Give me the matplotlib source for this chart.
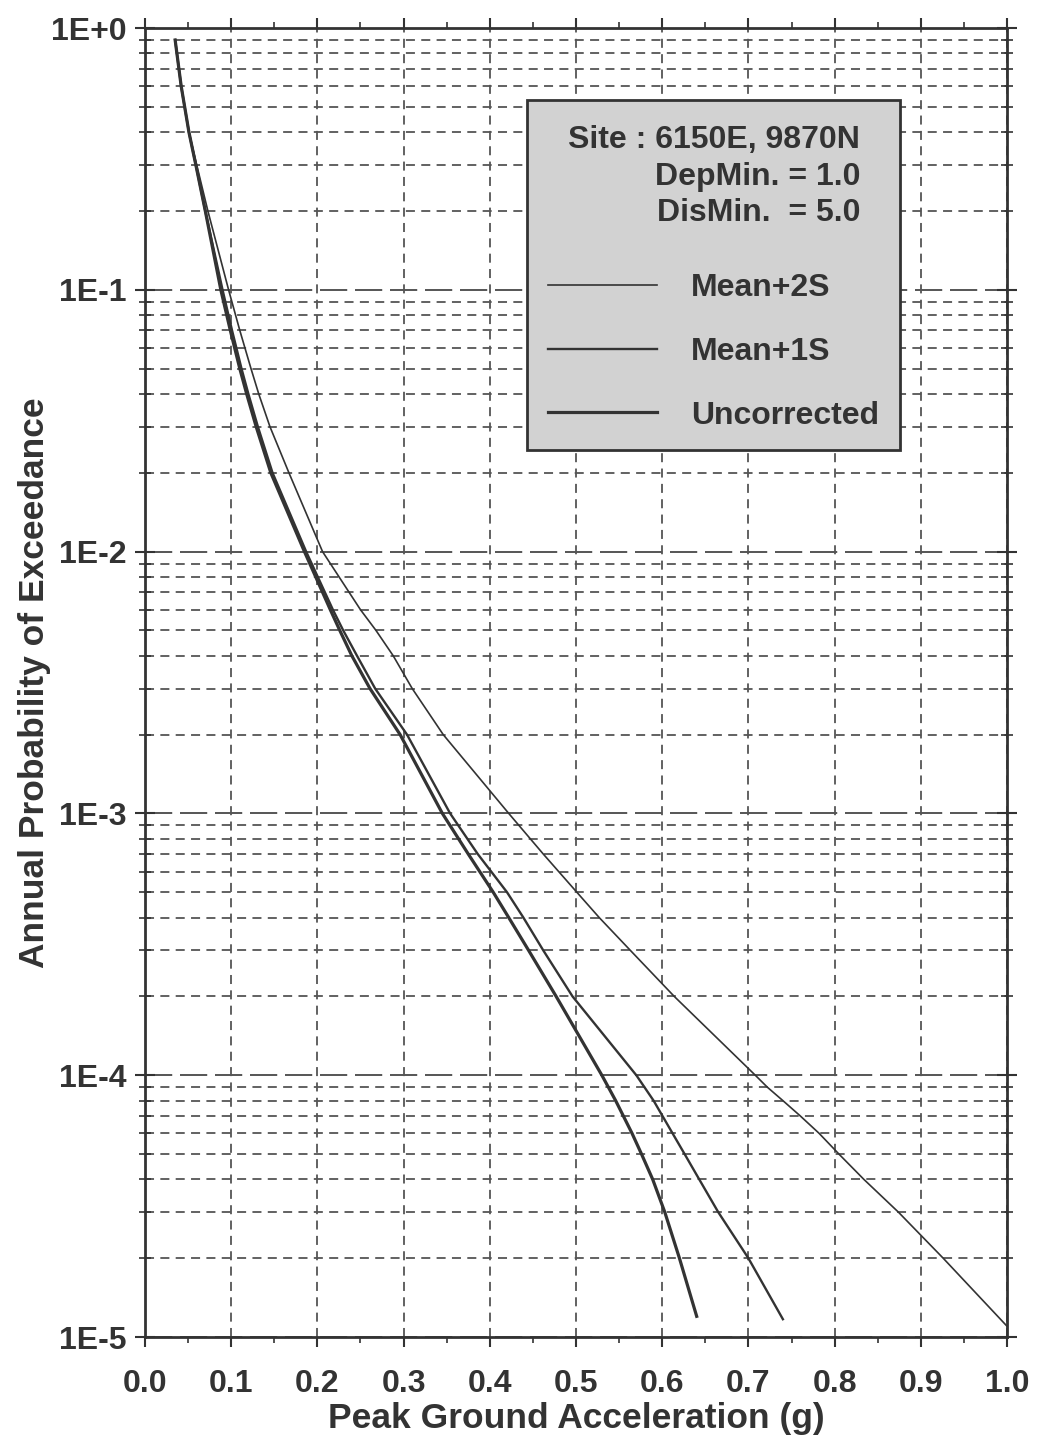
import numpy as np
import matplotlib
matplotlib.use("Agg")
import matplotlib.pyplot as plt
from matplotlib.patches import Rectangle
from matplotlib.ticker import LogLocator, MultipleLocator, FixedLocator

plt.rcParams['font.family'] = ['Liberation Sans', 'DejaVu Sans']
plt.rcParams['font.weight'] = 'bold'
plt.rcParams['axes.unicode_minus'] = False

# values (PGA in g, annual probability)
pga_2s = [0.035, 0.042, 0.051, 0.060, 0.073, 0.097, 0.110, 0.123, 0.132, 0.145, 0.167, 0.206,
          0.250, 0.268, 0.288, 0.310, 0.346, 0.422, 0.462, 0.501, 0.527, 0.563, 0.614, 0.708,
          0.722, 0.740, 0.760, 0.782, 0.805, 0.834, 0.874, 0.926, 1.0]
p_2s = [0.9, 0.6, 0.4, 0.3, 0.2, 0.1, 0.07, 0.05, 0.04, 0.03, 0.02, 0.01,
        6e-3, 5e-3, 4e-3, 3e-3, 2e-3, 1e-3, 7e-4, 5e-4, 4e-4, 3e-4, 2e-4, 1e-4,
        9e-5, 8e-5, 7e-5, 6e-5, 5e-5, 4e-5, 3e-5, 2e-5, 1.1e-5]

pga_1s = [0.035, 0.042, 0.051, 0.059, 0.070, 0.090, 0.101, 0.112, 0.120, 0.131, 0.148, 0.187,
          0.218, 0.230, 0.246, 0.267, 0.304, 0.354, 0.386, 0.420, 0.439, 0.462, 0.496, 0.570,
          0.590, 0.612, 0.626, 0.643, 0.665, 0.700, 0.740]
p_1s = [0.9, 0.6, 0.4, 0.3, 0.2, 0.1, 0.07, 0.05, 0.04, 0.03, 0.02, 0.01,
        6e-3, 5e-3, 4e-3, 3e-3, 2e-3, 1e-3, 7e-4, 5e-4, 4e-4, 3e-4, 2e-4, 1e-4,
        8e-5, 6e-5, 5e-5, 4e-5, 3e-5, 2e-5, 1.17e-5]

pga_unc = [0.035, 0.042, 0.051, 0.059, 0.070, 0.088, 0.099, 0.110, 0.118, 0.129, 0.146, 0.185,
           0.215, 0.226, 0.240, 0.261, 0.296, 0.345, 0.375, 0.404, 0.422, 0.445, 0.477, 0.530,
           0.546, 0.565, 0.576, 0.589, 0.603, 0.620, 0.640]
p_unc = [0.9, 0.6, 0.4, 0.3, 0.2, 0.1, 0.07, 0.05, 0.04, 0.03, 0.02, 0.01,
         6e-3, 5e-3, 4e-3, 3e-3, 2e-3, 1e-3, 7e-4, 5e-4, 4e-4, 3e-4, 2e-4, 1e-4,
         8e-5, 6e-5, 5e-5, 4e-5, 3e-5, 2e-5, 1.2e-5]

xticks = [0.0, 0.1, 0.2, 0.3, 0.4, 0.5, 0.6, 0.7, 0.8, 0.9, 1.0]
yticks = [1e0, 1e-1, 1e-2, 1e-3, 1e-4, 1e-5]
ylabels = ['1E+0', '1E-1', '1E-2', '1E-3', '1E-4', '1E-5']

ink = '#333333'

fig = plt.figure(figsize=(10.37, 14.45), dpi=100)
ax = fig.add_axes([0.1398, 0.0747, 0.8313, 0.9059])

l2, = ax.plot(pga_2s, p_2s, color=ink, lw=1.2)
l1, = ax.plot(pga_1s, p_1s, color=ink, lw=1.7)
l0, = ax.plot(pga_unc, p_unc, color=ink, lw=2.3)

ax.set_yscale('log')
ax.set_xlim(0, 1.0)
ax.set_ylim(1e-5, 1)
ax.xaxis.set_major_locator(FixedLocator(xticks))
ax.xaxis.set_minor_locator(MultipleLocator(0.05))
ax.set_xticklabels(['%.1f' % v for v in xticks])
ax.yaxis.set_major_locator(FixedLocator(yticks))
ax.set_yticklabels(ylabels)
ax.yaxis.set_minor_locator(LogLocator(base=10, subs=np.arange(2, 10)))

ax.grid(True, which='major', axis='y', color='#555555', lw=1.4, dashes=(14, 4))
ax.grid(True, which='minor', axis='y', color='#555555', lw=1.3, dashes=(5, 3.5))
ax.grid(True, which='major', axis='x', color='#555555', lw=1.3, dashes=(5, 3.5))
ax.set_axisbelow(True)

ax.tick_params(axis='both', which='both', colors=ink, labelsize=23, labelcolor=ink)
ax.tick_params(axis='x', which='major', direction='out', length=7, width=1.5, pad=16)
ax.tick_params(axis='x', which='minor', direction='out', length=4, width=1.2)
ax.tick_params(axis='y', which='major', direction='inout', length=14, width=1.5, pad=6)
ax.tick_params(axis='y', which='minor', direction='inout', length=8, width=1.2)
ax.tick_params(which='both', top=True, right=True)
for s in ax.spines.values():
    s.set_color(ink)
    s.set_linewidth(2)

ax.set_xlabel('Peak Ground Acceleration (g)', fontsize=25.5, fontweight='bold', color=ink, labelpad=2)
ax.set_ylabel('Annual Probability of Exceedance', fontsize=25.5, fontweight='bold', color=ink, labelpad=0)

# info box
box = Rectangle((0.443, 0.678), 0.433, 0.267, transform=ax.transAxes,
                facecolor='#d2d2d2', edgecolor=ink, lw=2, zorder=5)
ax.add_patch(box)
ax.text(0.8295, 0.9144, 'Site : 6150E, 9870N', transform=ax.transAxes, ha='right', va='center',
        fontsize=23, color=ink, zorder=6)
ax.text(0.8295, 0.886, 'DepMin. = 1.0', transform=ax.transAxes, ha='right', va='center',
        fontsize=23, color=ink, zorder=6)
ax.text(0.8295, 0.859, 'DisMin.  = 5.0', transform=ax.transAxes, ha='right', va='center',
        fontsize=23, color=ink, zorder=6)
leg = ax.legend([l2, l1, l0], ['Mean+2S', 'Mean+1S', 'Uncorrected'], loc='upper left',
                bbox_to_anchor=(0.4675, 0.8125), frameon=False, fontsize=23, handlelength=3.4,
                handletextpad=1.07, labelspacing=1.05, borderpad=0, borderaxespad=0)
leg.set_zorder(7)
for t in leg.get_texts():
    t.set_color(ink)

fig.savefig('out.png', dpi=100, facecolor='white')
